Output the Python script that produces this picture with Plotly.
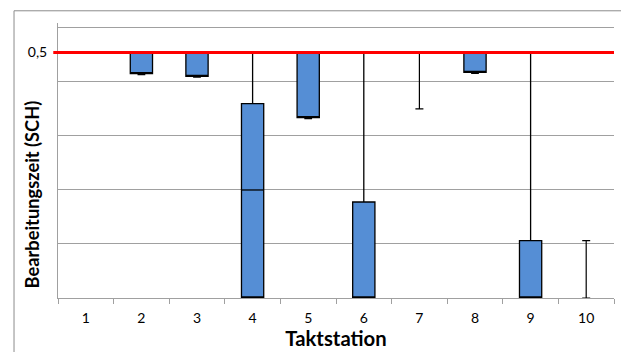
import plotly.graph_objects as go

# ---- data ----
stationen = [1, 2, 3, 4, 5, 6, 7, 8, 9, 10]
stationen_text = ["1", "2", "3", "4", "5", "6", "7", "8", "9", "10"]
box_oben = [0.5, 0.5, 0.5, 0.396, 0.5, 0.1955, None, 0.5, 0.1167, None]
box_unten = [0.5, 0.457, 0.4515, 0.0, 0.3674, 0.0, None, 0.4596, 0.0, None]
whisker_max = [0.5, 0.5, 0.5, 0.5, 0.5, 0.5, 0.5, 0.5, 0.5, 0.1167]
whisker_min = [0.5, 0.455, 0.450, 0.0, 0.3654, 0.0, 0.385, 0.4576, 0.0, 0.0]
teilung = [None, None, None, 0.22, None, None, None, None, None, None]
sollwert = 0.5
gitter = [0.11, 0.22, 0.33, 0.44, 0.55]
y_tick_werte = [0.5]
y_tick_text = ["0,5"]

BLAU = "#558ED5"
GRAU = "#a0a0a0"
FONT = "Lato"

fig = go.Figure()

# boxes with whiskers (stations that have a box)
idx_box = [i for i in range(len(stationen)) if box_oben[i] is not None]
fig.add_trace(go.Candlestick(
    x=[stationen[i] for i in idx_box],
    open=[box_oben[i] for i in idx_box],
    close=[box_unten[i] for i in idx_box],
    high=[whisker_max[i] for i in idx_box],
    low=[whisker_min[i] for i in idx_box],
    increasing=dict(fillcolor=BLAU, line=dict(color="black", width=1.3)),
    decreasing=dict(fillcolor=BLAU, line=dict(color="black", width=1.3)),
    whiskerwidth=0.35,
    showlegend=False,
    hoverinfo="skip",
))

# whiskers only (stations without box)
idx_nobox = [i for i in range(len(stationen)) if box_oben[i] is None]
fig.add_trace(go.Scatter(
    x=[stationen[i] for i in idx_nobox],
    y=[whisker_min[i] for i in idx_nobox],
    mode="markers",
    marker=dict(size=1, color="rgba(0,0,0,0)"),
    error_y=dict(
        type="data", symmetric=False,
        array=[whisker_max[i] - whisker_min[i] for i in idx_nobox],
        arrayminus=[0 for _ in idx_nobox],
        color="black", thickness=1.2, width=4,
    ),
    showlegend=False, hoverinfo="skip",
))

# separator line inside box (station 4)
for i, t in enumerate(teilung):
    if t is not None:
        fig.add_trace(go.Scatter(
            x=[stationen[i] - 0.2, stationen[i] + 0.2], y=[t, t],
            mode="lines", line=dict(color="black", width=1.3),
            showlegend=False, hoverinfo="skip",
        ))

# red target line
fig.add_shape(type="line", xref="paper", yref="y",
              x0=-0.0085, x1=1, y0=sollwert, y1=sollwert,
              line=dict(color="#ff0000", width=3), layer="above")

# outer chart border
fig.add_shape(type="rect", xref="paper", yref="paper",
              x0=-0.0791, x1=1.2, y0=-0.4, y1=1.0444,
              line=dict(color="#8c8c8c", width=1), layer="below")

# y axis title (placed like the original, partly below the tick label column)
fig.add_annotation(
    text="<b>Bearbeitungszeit (SCH)</b>", textangle=-90,
    xref="paper", yref="paper", x=-0.046, y=0.378,
    xanchor="center", yanchor="middle", showarrow=False,
    font=dict(size=18.3, family=FONT, color="black"),
)

fig.update_layout(
    width=621, height=344,
    margin=dict(l=50, r=15, t=15, b=52),
    paper_bgcolor="white", plot_bgcolor="white",
    boxgap=0.6, boxgroupgap=0,
    font=dict(family=FONT, color="black"),
    xaxis=dict(
        range=[0.5, 10.5], tickmode="array", tickvals=stationen, ticktext=stationen_text,
        ticks="", showline=True, linecolor=GRAU, linewidth=1, showgrid=False, zeroline=False,
        tickfont=dict(size=14, family=FONT, color="black"), ticklabelstandoff=7,
        minor=dict(tickvals=[s - 0.5 for s in stationen] + [stationen[-1] + 0.5],
                   ticks="outside", ticklen=5, tickcolor=GRAU, showgrid=False),
        rangeslider=dict(visible=False),
        title=dict(text="<b>Taktstation</b>", font=dict(size=20.3, family=FONT), standoff=0),
        fixedrange=True,
    ),
    yaxis=dict(
        range=[0, 0.5601], tickmode="array", tickvals=y_tick_werte, ticktext=y_tick_text,
        ticks="", showline=True, linecolor=GRAU, linewidth=1, showgrid=False, zeroline=False,
        tickfont=dict(size=14, family=FONT, color="black"), ticklabelstandoff=7,
        minor=dict(tickvals=gitter, showgrid=True, gridcolor=GRAU, gridwidth=1, ticks=""),
        fixedrange=True,
    ),
)

fig.write_html("out.html")
